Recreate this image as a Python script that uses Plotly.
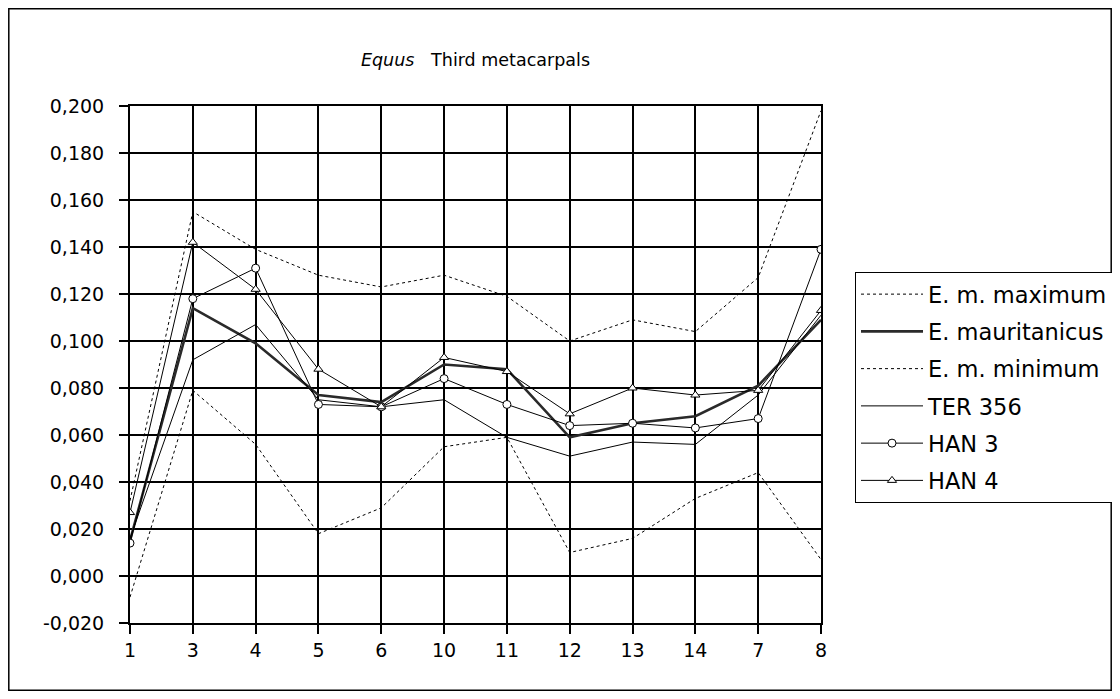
import plotly.graph_objects as go

categories = ["1", "3", "4", "5", "6", "10", "11", "12", "13", "14", "7", "8"]
em_max = [0.032, 0.155, 0.139, 0.128, 0.123, 0.128, 0.119, 0.100, 0.109, 0.104, 0.127, 0.198]
em_mean = [0.015, 0.114, 0.099, 0.077, 0.074, 0.090, 0.088, 0.059, 0.065, 0.068, 0.081, 0.109]
em_min = [-0.009, 0.079, 0.056, 0.018, 0.029, 0.055, 0.059, 0.010, 0.016, 0.033, 0.044, 0.007]
ter356 = [0.016, 0.092, 0.107, 0.075, 0.072, 0.075, 0.059, 0.051, 0.057, 0.056, 0.077, 0.111]
han3 = [0.014, 0.118, 0.131, 0.073, 0.072, 0.084, 0.073, 0.064, 0.065, 0.063, 0.067, 0.139]
han4 = [0.027, 0.142, 0.122, 0.088, 0.072, 0.093, 0.087, 0.069, 0.080, 0.077, 0.079, 0.113]

y_tickvals = [-0.02, 0.0, 0.02, 0.04, 0.06, 0.08, 0.10, 0.12, 0.14, 0.16, 0.18, 0.20]
y_ticktext = ["-0,020", "0,000", "0,020", "0,040", "0,060", "0,080", "0,100",
              "0,120", "0,140", "0,160", "0,180", "0,200"]

FONT = "DejaVu Sans"
OFF = 8  # page body margin
W, H = 1120 - 2 * OFF, 699 - 2 * OFF
L, T = 130 - OFF, 106 - OFF
R = W - (821 - OFF)
B = H - (623 - OFF)
pw, ph = W - L - R, H - T - B

fig = go.Figure()
fig.add_trace(go.Scatter(x=categories, y=em_max, name="E. m. maximum", mode="lines",
                         line=dict(color="black", width=1, dash="dot"), legendgroup="a"))
fig.add_trace(go.Scatter(x=categories, y=em_mean, name="E. mauritanicus", mode="lines",
                         line=dict(color="#2a2a2a", width=2.6), legendgroup="b"))
fig.add_trace(go.Scatter(x=categories, y=em_min, name="E. m. minimum", mode="lines",
                         line=dict(color="black", width=1, dash="dot"), legendgroup="c"))
fig.add_trace(go.Scatter(x=categories, y=ter356, name="TER 356", mode="lines",
                         line=dict(color="black", width=1), legendgroup="d"))
fig.add_trace(go.Scatter(x=categories, y=han3, name="HAN 3", mode="lines+markers",
                         line=dict(color="black", width=1),
                         marker=dict(symbol="circle", size=8, color="white",
                                     line=dict(color="black", width=1)), legendgroup="e"))
fig.add_trace(go.Scatter(x=categories, y=han4, name="HAN 4", mode="lines+markers",
                         line=dict(color="black", width=1),
                         marker=dict(symbol="triangle-up", size=8, color="white",
                                     line=dict(color="black", width=1)), legendgroup="f"))

def px_x(p):
    return (p - OFF - L) / pw

def px_y(p):
    return (H - B - (p - OFF)) / ph

fig.update_layout(
    width=W, height=H,
    margin=dict(l=L, r=R, t=T, b=B, autoexpand=False),
    paper_bgcolor="white", plot_bgcolor="white",
    font=dict(family=FONT, size=19, color="black"),
    title=dict(text="<i>Equus</i>\u00a0\u00a0 Third metacarpals",
               x=px_x(475.5), xref="paper", xanchor="center",
               y=1 - (60 - OFF) / H, yref="container", yanchor="middle",
               font=dict(family=FONT, size=17.5, color="black")),
    showlegend=True,
    legend=dict(x=px_x(855), y=px_y(272), xanchor="left", yanchor="top",
                bordercolor="black", borderwidth=1, bgcolor="white",
                font=dict(family=FONT, size=22.5, color="black"),
                itemwidth=62,
                tracegroupgap=5, traceorder="grouped"),
    xaxis=dict(type="category", categoryorder="array", categoryarray=categories,
               range=[0, len(categories) - 1],
               showgrid=True, gridcolor="black", gridwidth=2,
               showline=True, linecolor="black", linewidth=2, mirror=True,
               ticks="outside", ticklen=9, tickwidth=2, tickcolor="black",
               tickfont=dict(family=FONT, size=19), zeroline=False),
    yaxis=dict(range=[-0.02, 0.2], tickvals=y_tickvals, ticktext=y_ticktext,
               showgrid=True, gridcolor="black", gridwidth=2,
               showline=True, linecolor="black", linewidth=2, mirror=True,
               ticks="outside", ticklen=9, tickwidth=2, tickcolor="black",
               ticklabelstandoff=11,
               tickfont=dict(family=FONT, size=19), zeroline=False),
    shapes=[dict(type="rect", xref="paper", yref="paper",
                 x0=-L / pw + 0.8 / pw, x1=1 + R / pw - 0.8 / pw,
                 y0=-B / ph + 0.8 / ph, y1=1 + T / ph - 0.8 / ph,
                 line=dict(color="black", width=1.5), fillcolor="rgba(0,0,0,0)",
                 layer="above")],
)

fig.write_html("out.html")
